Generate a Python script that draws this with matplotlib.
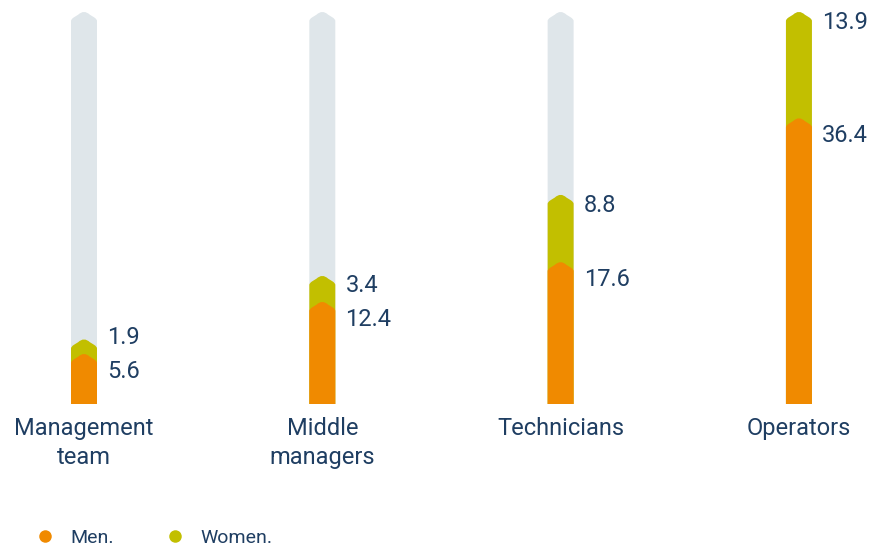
import numpy as np
import matplotlib
matplotlib.use("Agg")
from matplotlib import pyplot as plt
from matplotlib.path import Path
from matplotlib.patches import PathPatch
from matplotlib.lines import Line2D

plt.rcParams['font.family'] = ['Roboto', 'DejaVu Sans']

categories = ['Management\nteam', 'Middle\nmanagers', 'Technicians', 'Operators']
men = [5.6, 12.4, 17.6, 36.4]
women = [1.9, 3.4, 8.8, 13.9]
series_labels = ['Men.', 'Women.']

c_men = '#F08A00'
c_women = '#C2BF00'
c_track = '#DFE6EA'
c_text = '#1F3E62'

width = 0.109
peak = 1.05


def chevron_bar(ax, xc, top, color, z):
    w = width / 2
    x0, x1 = xc - w, xc + w
    t1, t2 = 0.22, 0.55
    verts = [
        (x0, 0), (x1, 0),
        (x1, top - t1 * peak),
        (x1, top), (x1 - t1 * w, top + t1 * peak),
        (x1 - t2 * w, top + t2 * peak),
        (xc, top + peak + 0.25), (x0 + t2 * w, top + t2 * peak),
        (x0 + t1 * w, top + t1 * peak),
        (x0, top), (x0, top - t1 * peak),
        (x0, 0),
    ]
    codes = [Path.MOVETO, Path.LINETO, Path.LINETO,
             Path.CURVE3, Path.CURVE3, Path.LINETO,
             Path.CURVE3, Path.CURVE3, Path.LINETO,
             Path.CURVE3, Path.CURVE3, Path.CLOSEPOLY]
    ax.add_patch(PathPatch(Path(verts, codes), facecolor=color,
                           edgecolor='none', zorder=z))


fig = plt.figure(figsize=(8.69, 5.46), dpi=100)
ax = fig.add_axes([0, 0, 1, 1])
ax.set_xlim(-0.3525, 3.294)
ax.set_ylim(-18.56, 52.8)
ax.axis('off')

totals = np.array(men) + np.array(women)
track = totals.max()
x = np.arange(len(categories))

for i, xc in enumerate(x):
    chevron_bar(ax, xc, track, c_track, 1)
    chevron_bar(ax, xc, totals[i], c_women, 2)
    chevron_bar(ax, xc, men[i], c_men, 3)

    y_men = men[i] - 1.3
    y_women = max(totals[i] - 0.4, y_men + 4.4)
    ax.text(xc + 0.097, y_men, f'{men[i]:.1f}', ha='left', va='center',
            fontsize=17, color=c_text)
    ax.text(xc + 0.097, y_women, f'{women[i]:.1f}', ha='left', va='center',
            fontsize=17, color=c_text)
    ax.text(xc, -1.75, categories[i], ha='center', va='top', fontsize=17,
            color=c_text, linespacing=1.32)

handles = [Line2D([], [], marker='o', linestyle='None', markersize=9,
                  markerfacecolor=c, markeredgecolor='none')
           for c in (c_men, c_women)]
fig.legend(handles, series_labels, loc='lower left',
           bbox_to_anchor=(0.020, -0.034), ncol=2, frameon=False,
           labelcolor=c_text, handlelength=1.0,
           handletextpad=0.8, columnspacing=2.67, prop={'size': 14})

fig.savefig('out.png', dpi=100)
